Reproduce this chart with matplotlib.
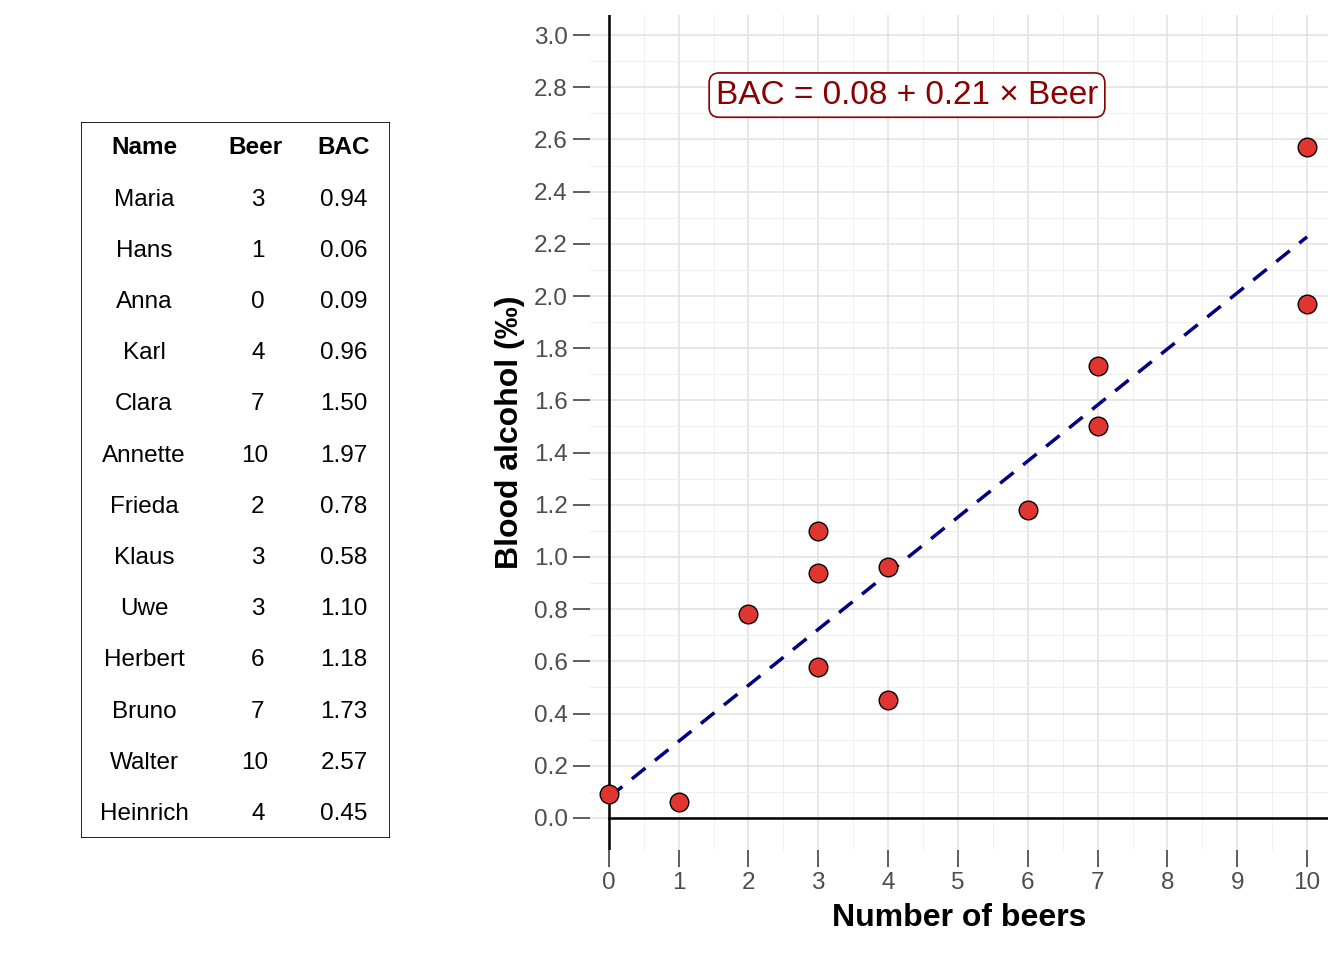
import numpy as np
import matplotlib.pyplot as plt
from matplotlib.patches import Rectangle

plt.rcParams['font.family'] = ['Liberation Sans', 'DejaVu Sans']

names = ["Maria", "Hans", "Anna", "Karl", "Clara", "Annette", "Frieda",
         "Klaus", "Uwe", "Herbert", "Bruno", "Walter", "Heinrich"]
beer = [3, 1, 0, 4, 7, 10, 2, 3, 3, 6, 7, 10, 4]
bac = [0.94, 0.06, 0.09, 0.96, 1.50, 1.97, 0.78, 0.58, 1.10, 1.18, 1.73, 2.57, 0.45]

fig = plt.figure(figsize=(13.44, 9.6), dpi=100)

# table on the left
tab = fig.add_axes([81/1344, 1-838/960, 309/1344, 716/960])
tab.set_xlim(81, 390)
tab.set_ylim(838, 122)
tab.axis("off")
tab.add_patch(Rectangle((81, 122), 309, 716, fill=False, lw=1.2, ec="black"))
for cx, h in zip([144, 255, 344], ["Name", "Beer", "BAC"]):
    tab.text(cx, 148, h, ha="center", va="center", fontsize=17.5, fontweight="bold")
for i in range(len(names)):
    y = 199.5 + i * 51.2
    tab.text(144, y, names[i], ha="center", va="center", fontsize=17.5)
    tab.text(258 if beer[i] < 10 else 255, y, str(beer[i]), ha="center", va="center", fontsize=17.5)
    tab.text(344, y, f"{bac[i]:.2f}", ha="center", va="center", fontsize=17.5)

# scatter plot
ax = fig.add_axes([590/1344, 1-850/960, 738/1344, 835/960])
ax.set_xlim(-0.27, 10.3)
ax.set_ylim(-0.123, 3.077)
for s in ax.spines.values():
    s.set_visible(False)
ax.set_xticks(range(0, 11))
ax.set_yticks(np.arange(0, 3.01, 0.2))
ax.set_yticklabels([f"{v:.1f}" for v in np.arange(0, 3.01, 0.2)])
ax.set_xticks(np.arange(0.5, 10, 1), minor=True)
ax.set_yticks(np.arange(0.1, 3.0, 0.2), minor=True)
ax.grid(True, which="major", color="#e0e0e0", lw=1.1)
ax.grid(True, which="minor", color="#f0f0f0", lw=0.7)
ax.tick_params(which="major", labelsize=17.5, labelcolor="#4d4d4d", color="#333333",
               length=12, width=1.1, pad=4)
ax.tick_params(which="minor", length=0)
ax.set_axisbelow(True)
ax.plot([0, 10.3], [0, 0], color="black", lw=1.8)
ax.axvline(0, color="black", lw=1.8)

b1, b0 = np.polyfit(beer, bac, 1)
xs = np.array([0, 10])
ax.plot(xs, b0 + b1 * xs, color="#000080", lw=2.5, ls=(0, (5, 3.5)))
ax.scatter(beer, bac, s=180, color="#e03530", edgecolors="black", lw=1.0, zorder=3,
           clip_on=False)

ax.text(4.27, 2.77, f"BAC = {b0:.2f} + {b1:.2f} × Beer", ha="center", va="center",
        fontsize=24, color="#8b0000",
        bbox=dict(boxstyle="round,pad=0.2,rounding_size=0.3", fc="white", ec="#8b0000", lw=1.2))

ax.set_xlabel("Number of beers", fontsize=23, fontweight="bold", labelpad=6)
ax.set_ylabel("Blood alcohol (‰)", fontsize=23, fontweight="bold", labelpad=6)

fig.savefig("out.png", dpi=100)
